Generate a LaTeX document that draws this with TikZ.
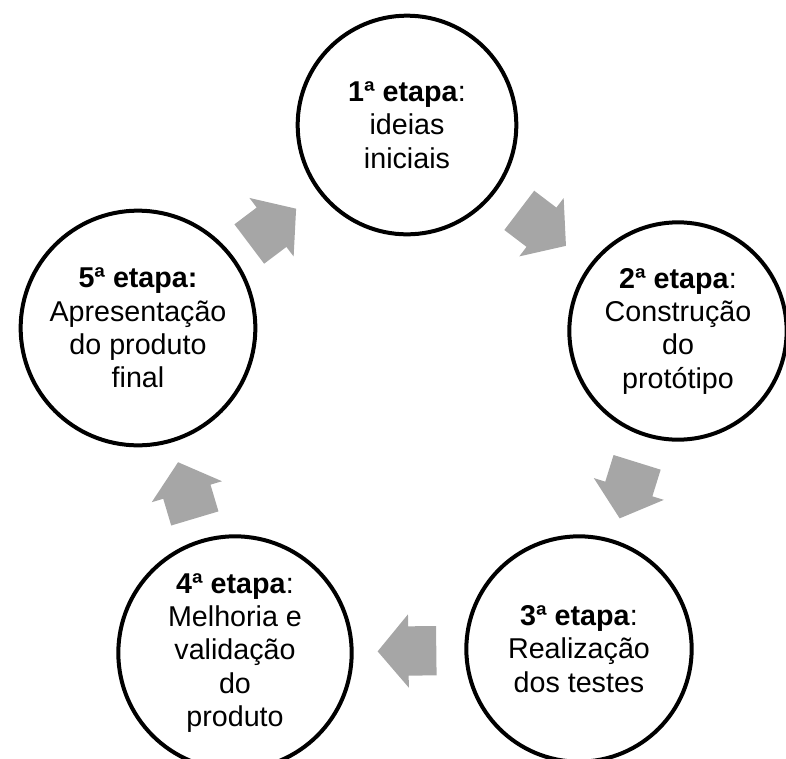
\documentclass[tikz,border=0pt]{standalone}
\usepackage{fontspec}
\setmainfont{Liberation Sans}
\usetikzlibrary{shapes.arrows}
\definecolor{arrowgray}{HTML}{A6A6A6}

\begin{document}
\begin{tikzpicture}[
            x = 0.75pt, y = -0.75pt, % one unit = one pixel
            font = \fontsize{21.5}{25}\selectfont,
            line width = 3pt % circle outline
        ]

        \tikzstyle{stage}=[
            circle,
            draw = black,
            fill = white,
            align = center,
            inner sep = 0pt
        ]

        \tikzstyle{flow}=[
            single arrow,
            fill = arrowgray,
            draw = none,
            text height = 34pt, % shaft width
            text depth = 0pt,
            minimum height = 44pt,
            minimum width = 52pt,
            single arrow head extend = 9pt,
            single arrow tip angle = 100,
            inner sep = 0pt,
            pos = 0.47,
            sloped,
            allow upside down
        ]

        \useasboundingbox (0,0) rectangle (786,758);

        \node[stage, minimum size=164pt] (s1) at (407,125) {\textbf{1ª etapa}:\\ideias\\iniciais};
        \node[stage, minimum size=163pt] (s2) at (678,331) {\textbf{2ª etapa}:\\Construção\\do\\protótipo};
        \node[stage, minimum size=169pt] (s3) at (579,649) {\textbf{3ª etapa}:\\Realização\\dos testes};
        \node[stage, minimum size=175pt] (s4) at (235,653) {\textbf{4ª etapa}:\\Melhoria e\\validação\\do\\produto};
        \node[stage, minimum size=176pt] (s5) at (138,328) {\textbf{5ª etapa:}\\Apresentação\\do produto\\final};

        \path (s1.center) -- node[flow] {} (s2.center);
        \path (s2.center) -- node[flow] {} (s3.center);
        \path (s3.center) -- node[flow] {} (s4.center);
        \path (s4.center) -- node[flow] {} (s5.center);
        \path (s5.center) -- node[flow] {} (s1.center);
\end{tikzpicture}
\end{document}
